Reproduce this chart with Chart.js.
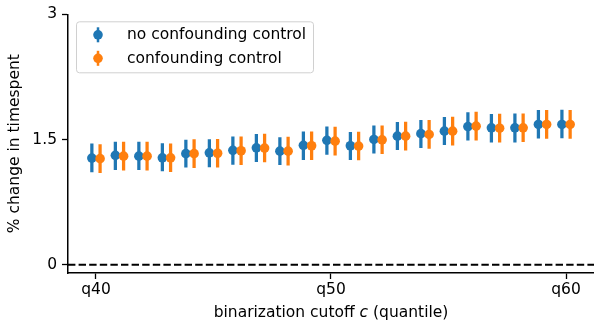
<!DOCTYPE html>
<html>
<head>
<meta charset="utf-8">
<script src="https://cdn.jsdelivr.net/npm/chart.js@4.4.1/dist/chart.umd.min.js"></script>
<style>
  html, body { margin: 0; padding: 0; background: #fff; }
  #wrap { width: 594px; height: 328px; position: relative; }
</style>
</head>
<body>
<div id="wrap"><canvas id="c" width="594" height="328"></canvas></div>
<script>
const categories = ['q40','q41','q42','q43','q44','q45','q46','q47','q48','q49','q50',
                    'q51','q52','q53','q54','q55','q56','q57','q58','q59','q60'];
const xTickLabels = ['q40','q50','q60'];
const yTickValues = [0, 1.5, 3];
const yTickLabels = ['0', '1.5', '3'];

const seriesNames = ['no confounding control', 'confounding control'];
const xTitleParts = [['binarization cutoff ', 'normal'], ['c', 'italic'], [' (quantile)', 'normal']];
const yTitle = '% change in timespent';

const noControlMean = [1.277,1.31,1.30,1.28,1.33,1.34,1.37,1.40,1.36,1.43,1.49,1.425,1.50,1.54,1.57,1.60,1.655,1.64,1.64,1.68,1.68];
const noControlLow  = [1.111,1.139,1.139,1.123,1.167,1.171,1.202,1.234,1.198,1.258,1.321,1.258,1.337,1.377,1.401,1.437,1.492,1.468,1.468,1.516,1.520];
const noControlHigh = [1.448,1.468,1.468,1.452,1.492,1.500,1.532,1.563,1.524,1.591,1.651,1.587,1.663,1.706,1.730,1.766,1.821,1.802,1.806,1.849,1.853];

const controlMean = [1.27,1.30,1.30,1.28,1.33,1.335,1.365,1.397,1.36,1.425,1.48,1.421,1.496,1.54,1.56,1.60,1.66,1.635,1.64,1.68,1.68];
const controlLow  = [1.103,1.133,1.133,1.113,1.163,1.168,1.198,1.230,1.193,1.258,1.313,1.254,1.329,1.373,1.393,1.433,1.493,1.468,1.473,1.513,1.513];
const controlHigh = [1.440,1.468,1.468,1.448,1.498,1.503,1.533,1.565,1.528,1.593,1.648,1.589,1.664,1.708,1.728,1.768,1.828,1.803,1.808,1.848,1.848];

const BLUE = '#1f77b4', ORANGE = '#ff7f0e';
const DODGE = 0.175;
const FONT = "'DejaVu Sans', sans-serif";
const FS = 15.5;

function pts(mean, off) { return mean.map((v, i) => ({ x: i + off, y: v })); }
function bars(lo, hi, off) { return lo.map((v, i) => ({ x: i + off, y: [v, hi[i]] })); }

const zeroLine = {
  id: 'zeroLine',
  beforeDatasetsDraw(chart) {
    const { ctx, chartArea, scales } = chart;
    const y = scales.y.getPixelForValue(0);
    ctx.save();
    ctx.strokeStyle = '#000';
    ctx.lineWidth = 2;
    ctx.setLineDash([7.4, 3.2]);
    ctx.beginPath();
    ctx.moveTo(chartArea.left, y);
    ctx.lineTo(chartArea.right, y);
    ctx.stroke();
    ctx.restore();
  }
};

const xTitle = {
  id: 'xTitle',
  afterDraw(chart) {
    const { ctx, chartArea } = chart;
    ctx.save();
    ctx.fillStyle = '#000';
    ctx.textBaseline = 'middle';
    ctx.textAlign = 'left';
    let total = 0;
    const widths = xTitleParts.map(([t, s]) => {
      ctx.font = s + ' ' + FS + 'px ' + FONT;
      const w = ctx.measureText(t).width;
      total += w;
      return w;
    });
    let x = (chartArea.left + chartArea.right) / 2 - total / 2;
    const y = 313;
    xTitleParts.forEach(([t, s], i) => {
      ctx.font = s + ' ' + FS + 'px ' + FONT;
      ctx.fillText(t, x, y);
      x += widths[i];
    });
    ctx.restore();
  }
};

const legendBox = {
  id: 'legendBox',
  afterDraw(chart) {
    const { ctx, chartArea } = chart;
    const x0 = chartArea.left + 8, y0 = chartArea.top + 7, w = 237, h = 51;
    ctx.save();
    ctx.fillStyle = 'rgba(255,255,255,0.8)';
    ctx.strokeStyle = '#d0d0d0';
    ctx.lineWidth = 1;
    ctx.beginPath();
    ctx.roundRect(x0 + 0.5, y0 + 0.5, w, h, 3);
    ctx.fill();
    ctx.stroke();
    const colors = [BLUE, ORANGE];
    seriesNames.forEach((name, k) => {
      const cy = y0 + 13.5 + k * 23.5;
      const mx = x0 + 22;
      ctx.strokeStyle = colors[k];
      ctx.lineWidth = 2.5;
      ctx.beginPath();
      ctx.moveTo(mx, cy - 7.5);
      ctx.lineTo(mx, cy + 7.5);
      ctx.stroke();
      ctx.fillStyle = colors[k];
      ctx.beginPath();
      ctx.arc(mx, cy, 4.8, 0, Math.PI * 2);
      ctx.fill();
      ctx.fillStyle = '#000';
      ctx.font = FS + 'px ' + FONT;
      ctx.textBaseline = 'middle';
      ctx.textAlign = 'left';
      ctx.fillText(name, x0 + 51, cy + 0.5);
    });
    ctx.restore();
  }
};

new Chart(document.getElementById('c'), {
  type: 'scatter',
  data: {
    datasets: [
      { type: 'bar', label: seriesNames[0] + ' CI', data: bars(noControlLow, noControlHigh, -DODGE),
        backgroundColor: BLUE, barThickness: 2.6, grouped: false, order: 4, borderWidth: 0 },
      { type: 'scatter', label: seriesNames[0], data: pts(noControlMean, -DODGE),
        backgroundColor: BLUE, borderWidth: 0, pointRadius: 4.8, order: 3 },
      { type: 'bar', label: seriesNames[1] + ' CI', data: bars(controlLow, controlHigh, DODGE),
        backgroundColor: ORANGE, barThickness: 2.6, grouped: false, order: 2, borderWidth: 0 },
      { type: 'scatter', label: seriesNames[1], data: pts(controlMean, DODGE),
        backgroundColor: ORANGE, borderWidth: 0, pointRadius: 4.8, order: 1 }
    ]
  },
  options: {
    responsive: false,
    animation: false,
    layout: { autoPadding: false, padding: { top: 13, right: 0, left: 0, bottom: 0 } },
    plugins: { legend: { display: false }, tooltip: { enabled: false } },
    scales: {
      x: {
        type: 'linear',
        offset: false,
        min: -1.19,
        max: 21.19,
        afterBuildTicks(scale) {
          scale.ticks = xTickLabels.map(l => ({ value: categories.indexOf(l) }));
        },
        afterFit(scale) { scale.height = 55; scale.paddingRight = 0; scale.paddingLeft = 0; },
        ticks: {
          color: '#000',
          font: { family: FONT, size: FS },
          padding: 2,
          maxRotation: 0,
          autoSkip: false,
          callback: (v) => categories[v]
        },
        grid: { display: true, offset: false, drawOnChartArea: false, drawTicks: true, tickLength: 6, tickColor: '#000', tickWidth: 1.3 },
        border: { display: true, color: '#000', width: 1.5 },
        title: { display: false }
      },
      y: {
        type: 'linear',
        min: -0.1,
        max: 3,
        afterBuildTicks(scale) {
          scale.ticks = yTickValues.map(v => ({ value: v }));
        },
        afterFit(scale) { scale.width = 68; },
        ticks: {
          color: '#000',
          font: { family: FONT, size: FS },
          padding: 5,
          callback: (v) => yTickLabels[yTickValues.indexOf(v)]
        },
        grid: { display: true, offset: false, drawOnChartArea: false, drawTicks: true, tickLength: 6, tickColor: '#000', tickWidth: 1.3 },
        border: { display: true, color: '#000', width: 1.5 },
        title: {
          display: true,
          text: yTitle,
          color: '#000',
          font: { family: FONT, size: FS },
          padding: { top: 5.5, bottom: 0 }
        }
      }
    }
  },
  plugins: [zeroLine, legendBox, xTitle]
});
</script>
</body>
</html>
